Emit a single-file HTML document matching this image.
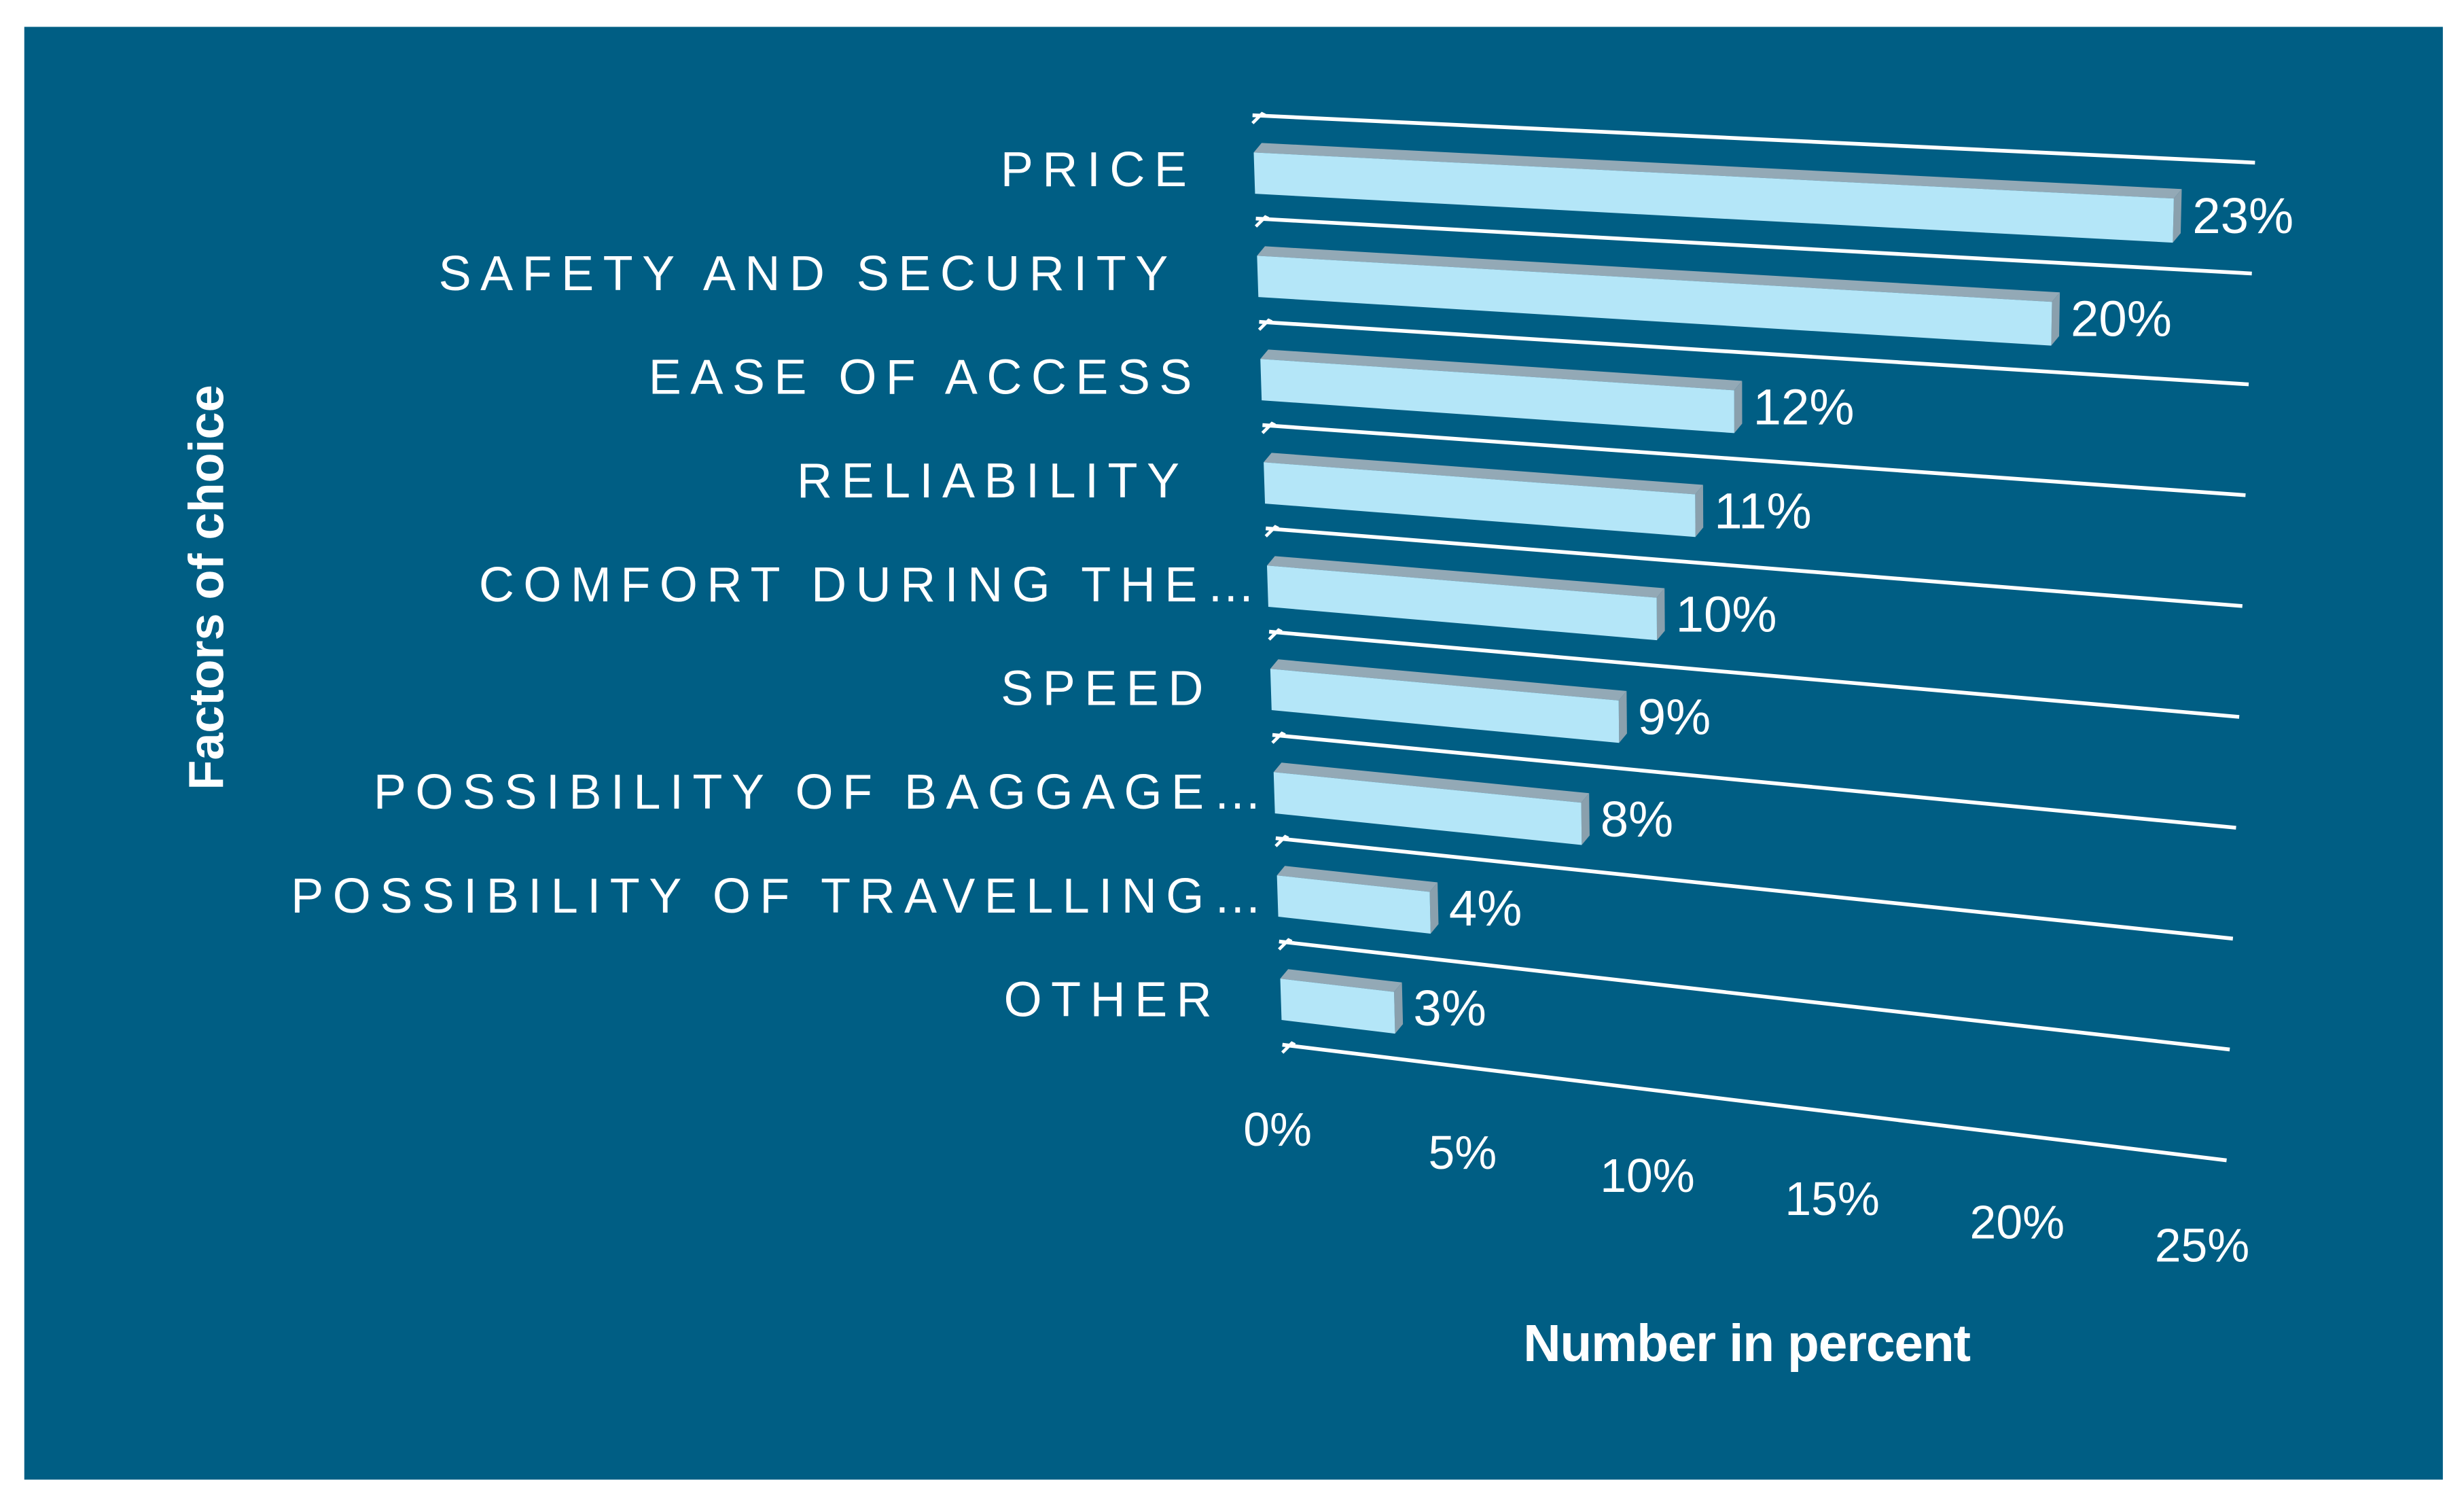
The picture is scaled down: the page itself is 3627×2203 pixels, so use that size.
<!DOCTYPE html>
<html><head><meta charset="utf-8"><style>
html,body{margin:0;padding:0;background:#fff;}
svg{display:block;}
text{font-family:"Liberation Sans",Arial,sans-serif;fill:#fff;}
</style></head><body>
<svg id="chart" width="3627" height="2203" viewBox="0 0 1560 948" xmlns="http://www.w3.org/2000/svg">
<rect x="15" y="17" width="1532" height="920" fill="#005E84"/>
<g id="grid"></g>
<g id="bars"></g>
<g id="labels"></g>
<g id="ticks"></g>
<text x="1106" y="862" text-anchor="middle" font-size="33" font-weight="bold" letter-spacing="-0.5">Number in percent</text>
<text transform="translate(141,372) rotate(-90)" text-anchor="middle" font-size="31" font-weight="bold">Factors of choice</text>
</svg>
<script>
const categories = ["PRICE","SAFETY AND SECURITY","EASE OF ACCESS","RELIABILITY","COMFORT DURING THE…","SPEED","POSSIBILITY OF BAGGAGE…","POSSIBILITY OF TRAVELLING…","OTHER"];
const values = [23,20,12,11,10,9,8,4,3];
const valueLabels = ["23%","20%","12%","11%","10%","9%","8%","4%","3%"];
const tickValues = [0,5,10,15,20,25];
const tickLabels = ["0%","5%","10%","15%","20%","25%"];
const maxV = 25;
const labelGap = [37,51,38,48,2,37,2,4,38];
const NS="http://www.w3.org/2000/svg";
function Lx(s){return 793+2.1*s;}
function Rx(s){return 1428-2*s;}
function Ly(s){return 73+65.4*s;}
function Ry(s){return 103+70.2*s;}
function pt(v,s){const f=v/maxV;return [Lx(s)+(Rx(s)-Lx(s))*f, Ly(s)+(Ry(s)-Ly(s))*f];}
function mk(tag,attrs,parent){const e=document.createElementNS(NS,tag);for(const k in attrs)e.setAttribute(k,attrs[k]);document.getElementById(parent).appendChild(e);return e;}
const n=categories.length;
for(let k=0;k<=n;k++){
  const a=pt(0,k),b=pt(maxV,k);
  const l=mk('line',{x1:a[0],y1:a[1],x2:b[0],y2:b[1],stroke:'#fff','stroke-width':2.4},'grid');
  
  
  const t=mk('polyline',{points:`${a[0]},${a[1]+5} ${a[0]+6},${a[1]-1} ${a[0]+8},${a[1]}`,fill:'none',stroke:'#fff','stroke-width':2},'grid');
  
  
}
const dx=5,dy=-6;
for(let i=0;i<n;i++){
  const s0=i+0.36,s1=i+0.76,v=values[i];
  const a=pt(0,s0),b=pt(v,s0),c=pt(v,s1),d=pt(0,s1);
  const top=mk('polygon',{points:`${a[0]},${a[1]} ${b[0]},${b[1]} ${b[0]+dx},${b[1]+dy} ${a[0]+dx},${a[1]+dy}`,fill:'#93A9B6'},'bars');
  
  
  const side=mk('polygon',{points:`${b[0]},${b[1]} ${b[0]+dx},${b[1]+dy} ${c[0]+dx},${c[1]+dy} ${c[0]},${c[1]}`,fill:'#8AA0AD'},'bars');
  
  
  const f=mk('polygon',{points:`${a[0]},${a[1]} ${b[0]},${b[1]} ${c[0]},${c[1]} ${d[0]},${d[1]}`,fill:'#B4E6F8'},'bars');
  
  
  const m=pt(v,i+0.5);
  const vl=mk('text',{x:m[0]+12,y:m[1]+12,'font-size':32},'labels');
  vl.textContent=valueLabels[i];
  
  
  const cm=pt(0,i+0.55);
  const cl=mk('text',{x:cm[0]-labelGap[i],y:cm[1]+9+i*0.3,'font-size':31,'text-anchor':'end','letter-spacing':5.8},'labels');
  cl.textContent=categories[i];
  
  
}
for(let j=0;j<tickValues.length;j++){
  const p=pt(tickValues[j],n);
  const t=mk('text',{x:p[0]-3-j*2.5,y:p[1]+64,'font-size':30,'text-anchor':'middle'},'ticks');
  t.textContent=tickLabels[j];
  
  
}
</script>
</body></html>
